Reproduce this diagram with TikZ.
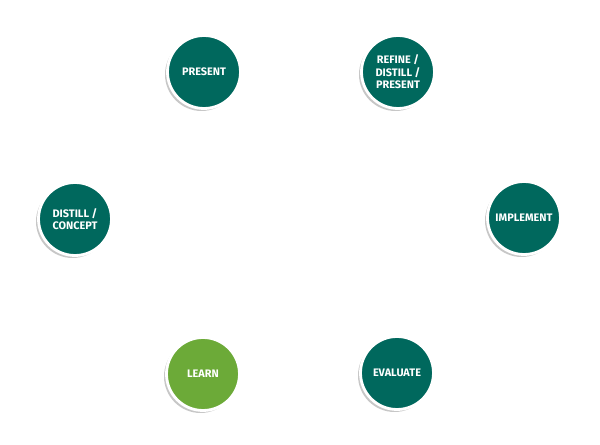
\documentclass[tikz,border=0pt]{standalone}
\usepackage{fontspec}
\newfontfamily\stepfont{Fira Sans}
\usepackage{tikz}
\usetikzlibrary{shadows}
\definecolor{cycleteal}{RGB}{0,104,93}
\definecolor{cyclegreen}{RGB}{108,170,56}
\begin{document}
\begin{tikzpicture}[
  x=0.02cm, y=-0.02cm,
  stage/.style={circle, minimum size=1.46cm, inner sep=0pt, align=center,
                fill=cycleteal, draw=white, line width=1.6pt, text=white,
                font=\stepfont\bfseries\fontsize{6.2}{7.2}\selectfont,
                drop shadow={shadow xshift=-0.05cm, shadow yshift=-0.05cm,
                             fill=black!22, opacity=1}}]

\useasboundingbox (0,0) rectangle (600,445);

\node[stage] (present)   at (204,72)  {PRESENT};
\node[stage] (refine)    at (398,72)  {REFINE /\\DISTILL /\\PRESENT};
\node[stage] (distill)   at (75,219)  {DISTILL /\\CONCEPT};
\node[stage] (implement) at (524,218) {IMPLEMENT};
\node[stage, fill=cyclegreen] (learn) at (203,374) {LEARN};
\node[stage] (evaluate)  at (397,373) {EVALUATE};
\end{tikzpicture}
\end{document}
